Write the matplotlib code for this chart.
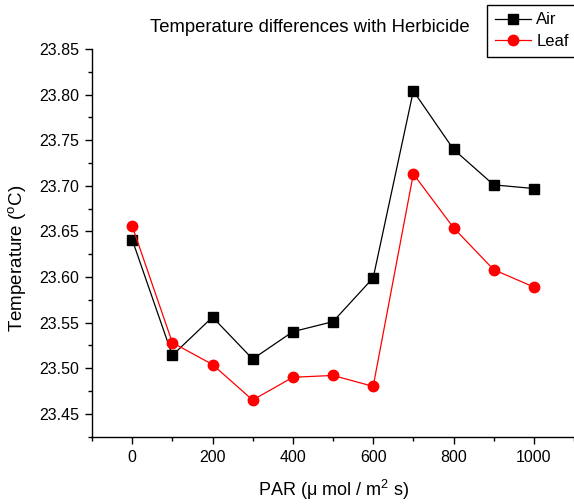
import matplotlib
matplotlib.use("Agg")
import matplotlib.pyplot as plt
from matplotlib.ticker import MultipleLocator

plt.rcParams['font.family'] = ['Liberation Sans', 'DejaVu Sans']
plt.rcParams['mathtext.fontset'] = 'custom'
plt.rcParams['mathtext.rm'] = 'Liberation Sans'
plt.rcParams['mathtext.it'] = 'Liberation Sans'

# data
par = [0, 100, 200, 300, 400, 500, 600, 700, 800, 900, 1000]
air = [23.641, 23.514, 23.556, 23.510, 23.540, 23.551, 23.599, 23.804, 23.740, 23.701, 23.697]
leaf = [23.656, 23.528, 23.504, 23.465, 23.490, 23.492, 23.480, 23.713, 23.654, 23.608, 23.589]

fig = plt.figure(figsize=(5.74, 5.04), dpi=100)
ax = fig.add_axes([92/574, 1 - 437/504, 1 - 92/574, (437 - 49)/504])

l1, = ax.plot(par, air, color='black', lw=0.9, marker='s', ms=6.5, label='Air')
l2, = ax.plot(par, leaf, color='red', lw=0.9, marker='o', ms=7.5, label='Leaf')

ax.set_xlim(-100, 1100)
ax.set_ylim(23.4245, 23.85)
ax.xaxis.set_major_locator(MultipleLocator(200))
ax.xaxis.set_minor_locator(MultipleLocator(100))
ax.yaxis.set_major_locator(MultipleLocator(0.05))
ax.yaxis.set_minor_locator(MultipleLocator(0.025))
ax.yaxis.set_major_formatter(plt.FormatStrFormatter('%.2f'))

for s in ['top', 'right']:
    ax.spines[s].set_visible(False)
for s in ['left', 'bottom']:
    ax.spines[s].set_linewidth(1.0)
ax.tick_params(which='major', direction='out', length=5, width=1, labelsize=11.5, pad=4)
ax.tick_params(which='minor', direction='out', length=3, width=1)

ax.set_xlabel('PAR ($\\mu$ mol / m$^2$ s)', fontsize=13, labelpad=10)
ax.set_ylabel('Temperature ($^{o}$C)', fontsize=13.5)
ax.yaxis.set_label_coords(-0.133, (437 - 258) / (437 - 49))

fig.text(310/574, 1 - 28/504, 'Temperature differences with Herbicide',
         ha='center', va='center', fontsize=13.3)

leg = fig.legend(handles=[l1, l2], loc='upper left', bbox_to_anchor=(487/574, 1 - 5/504),
                 fontsize=12, frameon=True, fancybox=False, borderpad=0.45,
                 handlelength=2.2, handletextpad=0.3, labelspacing=0.4,
                 borderaxespad=0)
leg.get_frame().set_edgecolor('black')
leg.get_frame().set_linewidth(1.0)
leg.get_frame().set_alpha(1)

fig.savefig('out.png', dpi=100)
